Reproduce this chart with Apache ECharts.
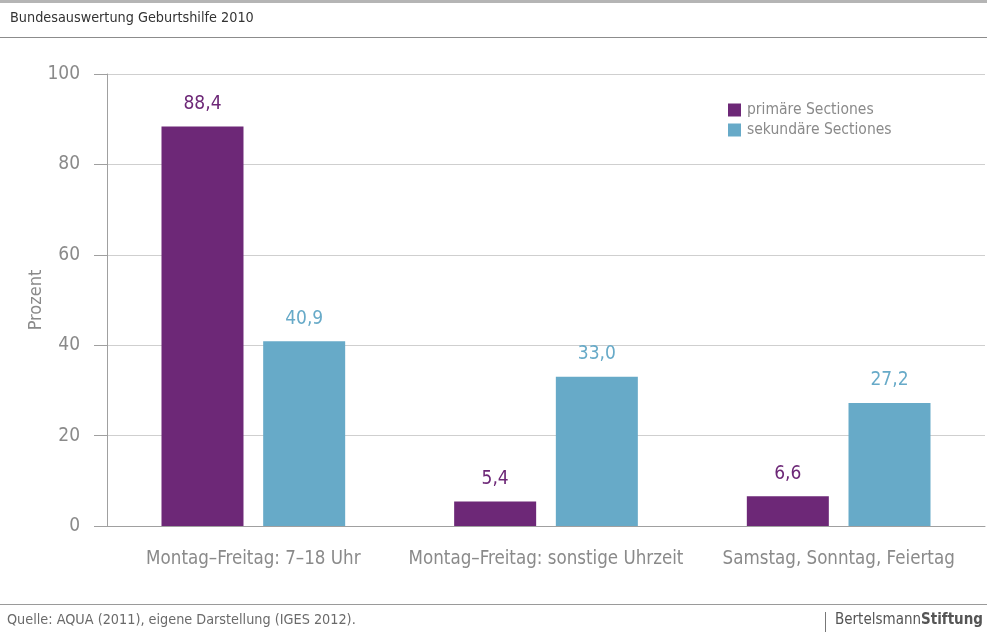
<!DOCTYPE html>
<html><head><meta charset="utf-8">
<script src="https://cdn.jsdelivr.net/npm/echarts@6/dist/echarts.min.js"></script>
<style>html,body{margin:0;padding:0;background:#fff}#c{width:987px;height:635px}</style>
</head><body><div id="c"></div>
<script>
const categories = ['Montag–Freitag: 7–18 Uhr', 'Montag–Freitag: sonstige Uhrzeit', 'Samstag, Sonntag, Feiertag'];
const primaere = [88.4, 5.4, 6.6];
const sekundaere = [40.9, 33.0, 27.2];
const seriesNames = ['primäre Sectiones', 'sekundäre Sectiones'];
const yTicks = [0, 20, 40, 60, 80, 100];
const titleText = 'Bundesauswertung Geburtshilfe 2010';
const sourceText = 'Quelle: AQUA (2011), eigene Darstellung (IGES 2012).';

const FONT = '"Liberation Sans Narrow", "DejaVu Sans Condensed", sans-serif';
const PURPLE = '#6d2877', BLUE = '#67aac8', GREY = '#8a8a8a';
const fmt = p => p.value.toFixed(1).replace('.', ',');

const chart = echarts.init(document.getElementById('c'), null, {renderer: 'canvas'});
chart.setOption({
  animation: false,
  textStyle: {fontFamily: FONT},
  grid: {left: 107, right: 2, top: 74, bottom: 109, containLabel: false},
  legend: {
    orient: 'vertical', left: 728, top: 102, padding: 0, itemWidth: 13, itemHeight: 13, itemGap: 4,
    icon: 'rect', data: seriesNames,
    textStyle: {color: GREY, fontSize: 15.5, lineHeight: 13, fontFamily: FONT, padding: [0, 0, 0, 1]}
  },
  xAxis: {
    type: 'category', data: categories,
    axisLine: {show: true, lineStyle: {color: '#a0a0a0', width: 1}},
    axisTick: {show: false},
    axisLabel: {color: GREY, fontSize: 18.6, margin: 24, interval: 0, fontFamily: FONT}
  },
  yAxis: {
    type: 'value', min: 0, max: 100, interval: 20,
    name: 'Prozent', nameLocation: 'middle', nameGap: 62, nameRotate: 90, nameMoveOverlap: false,
    nameTextStyle: {color: GREY, fontSize: 18, fontFamily: FONT},
    axisLine: {show: true, lineStyle: {color: '#a0a0a0', width: 1}},
    axisTick: {show: true, inside: false, length: 13, lineStyle: {color: '#a0a0a0'}},
    axisLabel: {color: GREY, fontSize: 19, margin: 27, fontFamily: FONT,
      formatter: v => yTicks.includes(v) ? String(v) : ''},
    splitLine: {show: true, lineStyle: {color: '#cfcfcf', width: 1}}
  },
  series: [
    {name: seriesNames[0], type: 'bar', data: primaere, barWidth: 82, barGap: '24%',
     itemStyle: {color: PURPLE},
     label: {show: true, position: 'top', distance: 13, color: PURPLE, fontSize: 19, fontFamily: FONT, formatter: fmt}},
    {name: seriesNames[1], type: 'bar', data: sekundaere, barWidth: 82,
     itemStyle: {color: BLUE},
     label: {show: true, position: 'top', distance: 13, color: BLUE, fontSize: 19, fontFamily: FONT, formatter: fmt}}
  ],
  graphic: [
    {type: 'rect', shape: {x: 0, y: 0, width: 987, height: 3}, style: {fill: '#b5b5b5'}, silent: true},
    {type: 'text', left: 10, top: 11, style: {text: titleText, fill: '#333', fontSize: 14.3, fontFamily: FONT}},
    {type: 'rect', shape: {x: 0, y: 37, width: 987, height: 1}, style: {fill: '#8c8c8c'}, silent: true},
    {type: 'rect', shape: {x: 0, y: 604, width: 987, height: 1}, style: {fill: '#9a9a9a'}, silent: true},
    {type: 'text', left: 7, top: 613, style: {text: sourceText, fill: '#6a6a6a', fontSize: 14.3, fontFamily: FONT}},
    {type: 'rect', shape: {x: 825, y: 612, width: 1, height: 20}, style: {fill: '#777'}, silent: true},
    {type: 'text', left: 835, top: 613, style: {
      text: '{a|Bertelsmann}{b|Stiftung}',
      rich: {a: {fill: '#555', fontSize: 15, fontFamily: FONT},
             b: {fill: '#555', fontSize: 15, fontWeight: 'bold', fontFamily: FONT}}}}
  ]
});
</script></body></html>
